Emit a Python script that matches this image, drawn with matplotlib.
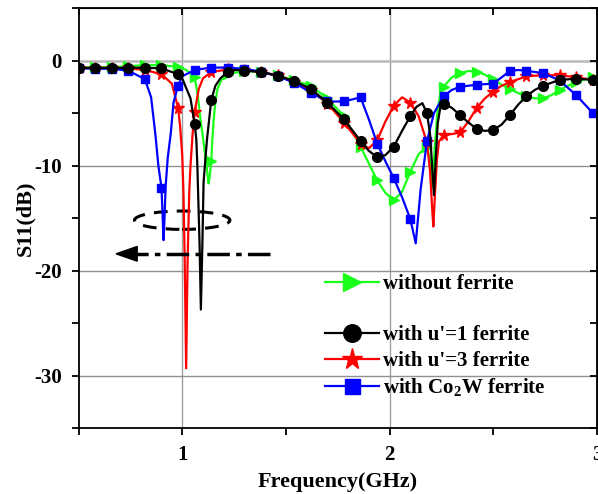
import numpy as np
import matplotlib
matplotlib.use('Agg')
import matplotlib.pyplot as plt
from matplotlib.patches import Ellipse, Polygon
from matplotlib.lines import Line2D

plt.rcParams['font.family'] = ['Liberation Serif', 'DejaVu Serif']
plt.rcParams['font.weight'] = 'bold'
plt.rcParams['axes.unicode_minus'] = False
plt.rcParams['mathtext.fontset'] = 'custom'
plt.rcParams['mathtext.rm'] = 'Liberation Serif:bold'
plt.rcParams['mathtext.bf'] = 'Liberation Serif:bold'

# (frequency GHz, S11 dB)
without_ferrite = np.array([
    [0.50, -0.65], [0.58, -0.65], [0.66, -0.62], [0.74, -0.55], [0.82, -0.42],
    [0.90, -0.45], [0.98, -0.60], [1.02, -0.90], [1.06, -1.6], [1.075, -3.3],
    [1.088, -5.6], [1.10, -7.3], [1.111, -9.0], [1.12, -10.5], [1.127, -11.7],
    [1.133, -11.0], [1.14, -9.6], [1.145, -7.6], [1.151, -5.8], [1.16, -3.9],
    [1.17, -2.7], [1.19, -1.8], [1.22, -1.3], [1.30, -1.0], [1.38, -1.1],
    [1.46, -1.4], [1.54, -1.9], [1.62, -2.4], [1.70, -3.6], [1.78, -5.3],
    [1.86, -8.2], [1.94, -11.4], [1.98, -12.6], [2.02, -13.3], [2.06, -12.5],
    [2.10, -10.6], [2.14, -8.9], [2.18, -8.2], [2.195, -9.5], [2.207, -12.0],
    [2.217, -8.5], [2.23, -5.0], [2.245, -3.0], [2.26, -2.5], [2.30, -1.6],
    [2.34, -1.2], [2.38, -1.0], [2.42, -1.05], [2.46, -1.35], [2.50, -1.8],
    [2.54, -2.3], [2.58, -2.7], [2.62, -3.1], [2.66, -3.4], [2.70, -3.6],
    [2.74, -3.6], [2.78, -3.3], [2.82, -2.8], [2.86, -2.4], [2.90, -2.05],
    [2.94, -1.8], [2.98, -1.6], [3.00, -1.55]])

u1_ferrite = np.array([
    [0.50, -0.70], [0.58, -0.70], [0.66, -0.70], [0.74, -0.70], [0.82, -0.68],
    [0.90, -0.75], [0.98, -1.30], [1.00, -1.7], [1.023, -2.8], [1.04, -3.6],
    [1.06, -6.06], [1.068, -7.5], [1.073, -10.0], [1.078, -13.5], [1.084, -17.7],
    [1.090, -23.7], [1.097, -17.7], [1.103, -11.6], [1.112, -9.3], [1.12, -7.4],
    [1.13, -5.6], [1.14, -3.75], [1.16, -2.4], [1.184, -1.7], [1.22, -1.05],
    [1.26, -0.9], [1.30, -0.95], [1.38, -1.1], [1.46, -1.45], [1.54, -1.95],
    [1.62, -2.7], [1.70, -4.0], [1.78, -5.6], [1.86, -7.65], [1.90, -8.6],
    [1.94, -9.2], [1.98, -9.0], [2.02, -8.2], [2.06, -6.7], [2.10, -5.3],
    [2.13, -4.4], [2.158, -4.06], [2.18, -5.0], [2.195, -7.0], [2.205, -10.0],
    [2.214, -12.8], [2.222, -9.5], [2.232, -6.0], [2.245, -4.4], [2.26, -4.1],
    [2.30, -4.5], [2.34, -5.2], [2.38, -5.9], [2.42, -6.5], [2.46, -6.7],
    [2.50, -6.6], [2.54, -6.1], [2.58, -5.2], [2.62, -4.2], [2.66, -3.4],
    [2.70, -2.8], [2.74, -2.4], [2.82, -1.84], [2.90, -1.74], [2.98, -1.84],
    [3.00, -1.9]])

u3_ferrite = np.array([
    [0.50, -0.72], [0.58, -0.72], [0.66, -0.72], [0.74, -0.75], [0.82, -0.90],
    [0.90, -1.3], [0.95, -2.2], [0.98, -4.5], [0.99, -6.3], [1.00, -9.0],
    [1.006, -12.5], [1.012, -19.0], [1.019, -29.3], [1.026, -19.0], [1.034, -12.5],
    [1.04, -10.0], [1.05, -7.0], [1.06, -4.9], [1.08, -2.7], [1.10, -1.7],
    [1.14, -1.1], [1.22, -0.85], [1.30, -0.9], [1.38, -1.1], [1.46, -1.4],
    [1.54, -2.0], [1.62, -2.8], [1.70, -4.1], [1.78, -5.9], [1.86, -7.9],
    [1.90, -8.35], [1.94, -7.6], [1.98, -5.8], [2.02, -4.3], [2.06, -3.5],
    [2.10, -4.0], [2.14, -5.3], [2.18, -7.8], [2.195, -10.5], [2.205, -14.0],
    [2.211, -15.8], [2.218, -13.0], [2.228, -9.5], [2.238, -7.7], [2.26, -7.1],
    [2.30, -7.0], [2.34, -6.85], [2.38, -5.8], [2.42, -4.5], [2.46, -3.6],
    [2.50, -2.95], [2.54, -2.4], [2.58, -2.06], [2.66, -1.5], [2.74, -1.4],
    [2.82, -1.4], [2.90, -1.6], [2.98, -1.84], [3.00, -1.9]])

co2w_ferrite = np.array([
    [0.50, -0.73], [0.58, -0.78], [0.66, -0.78], [0.74, -0.97], [0.82, -1.77],
    [0.85, -3.5], [0.87, -6.9], [0.885, -10.0], [0.90, -12.1], [0.905, -14.5],
    [0.91, -17.1], [0.915, -14.8], [0.92, -12.0], [0.93, -9.3], [0.945, -6.9],
    [0.958, -4.0], [0.98, -2.4], [1.00, -1.5], [1.06, -0.9], [1.14, -0.67],
    [1.22, -0.67], [1.30, -0.8], [1.38, -1.05], [1.46, -1.5], [1.54, -2.1],
    [1.62, -3.05], [1.70, -3.9], [1.78, -3.9], [1.86, -3.5], [1.90, -5.6],
    [1.94, -7.9], [1.98, -9.6], [2.02, -11.2], [2.06, -13.0], [2.10, -15.1],
    [2.126, -17.4], [2.15, -12.2], [2.18, -7.7], [2.214, -5.0], [2.26, -3.4],
    [2.30, -2.8], [2.34, -2.5], [2.42, -2.3], [2.50, -2.2], [2.58, -1.0],
    [2.62, -0.9], [2.66, -0.98], [2.74, -1.2], [2.82, -1.9], [2.90, -3.3],
    [2.98, -5.0], [3.00, -5.3]])

labels = ['without ferrite', "with u'=1 ferrite", "with u'=3 ferrite",
          r'with Co$_\mathbf{2}$W ferrite']

xticks = [0.5, 1, 1.5, 2, 2.5, 3]
xticklabels = ['', '1', '', '2', '', '3']
yticks = [-35, -30, -25, -20, -15, -10, -5, 0, 5]
yticklabels = ['', '-30', '', '-20', '', '-10', '', '0', '']

# annotation: dashed ellipse around the dips and dash-dot arrow
ell_center, ell_w, ell_h = (1.0, -15.2), 0.46, 1.75
arrow_y, arrow_tail, arrow_base, arrow_tip = -18.4, 1.425, 0.783, 0.681


def marker_idx(f, start=0.5, step=0.08):
    k = (f - start) / step
    return list(np.where(np.abs(k - np.round(k)) < 1e-6)[0])


fig = plt.figure(figsize=(5.98, 4.94), dpi=100)
ax = fig.add_axes([0.1313, 0.1332, 0.867, 0.8506])

for xg in [1, 2]:
    ax.axvline(xg, color='#a0a0a0', lw=1.0, zorder=0)
for yg in [-30, -20, -10]:
    ax.axhline(yg, color='#909090', lw=1.0, zorder=0)
ax.axhline(0, color='#b8b8b8', lw=1.8, zorder=0)

styles = [
    (without_ferrite, '#1aff1a', '>', 7.5),
    (u3_ferrite, 'red', '*', 8.5),
    (co2w_ferrite, 'blue', 's', 6),
    (u1_ferrite, 'black', 'o', 7),
]
handles = {}
for data, col, mk, ms in styles:
    f, s = data[:, 0], data[:, 1]
    ln, = ax.plot(f, s, color=col, lw=1.6, marker=mk, ms=ms,
                  markevery=marker_idx(f), mec=col, mfc=col)
    handles[col] = ln

ax.add_patch(Ellipse(ell_center, ell_w, ell_h, fill=False, color='black',
                     lw=2.2, ls=(0, (4.5, 3.0))))
ax.plot([arrow_tail, arrow_base], [arrow_y, arrow_y], color='black', lw=2.5,
        ls=(0, (6.5, 1.8, 1.6, 1.8)))
ax.add_patch(Polygon([[arrow_tip, arrow_y], [arrow_base, arrow_y + 0.7],
                      [arrow_base, arrow_y - 0.7]], closed=True, color='black'))

ax.set_xlim(0.5, 3)
ax.set_ylim(-35, 5)
ax.set_xticks(xticks)
ax.set_xticklabels(xticklabels)
ax.set_yticks(yticks)
ax.set_yticklabels(yticklabels)
ax.tick_params(direction='out', length=5, width=1.3, labelsize=15, pad=7)
ax.set_xlabel('Frequency(GHz)', fontsize=16, fontweight='bold', labelpad=5)
ax.set_ylabel('S11(dB)', fontsize=16, fontweight='bold', labelpad=-1)
for sp in ax.spines.values():
    sp.set_linewidth(1.3)

top = ax.secondary_xaxis('top')
top.set_xticks(xticks)
top.tick_params(direction='in', length=5, width=1.3, labeltop=False)
right = ax.secondary_yaxis('right')
right.set_yticks(yticks)
right.tick_params(direction='in', length=5, width=1.3, labelright=False)

blank = Line2D([], [], linestyle='none', label=' ')
leg = ax.legend([handles['#1aff1a'], blank, handles['black'], handles['red'],
                 handles['blue']],
                [labels[0], ' ', labels[1], labels[2], labels[3]],
                loc='upper left', bbox_to_anchor=(0.5435, 0.445),
                bbox_transform=fig.transFigure, frameon=False, fontsize=15,
                markerscale=1.8, handlelength=2.6, handletextpad=0.2,
                labelspacing=0.27, borderpad=0, borderaxespad=0)

fig.savefig('out.png', dpi=100)
